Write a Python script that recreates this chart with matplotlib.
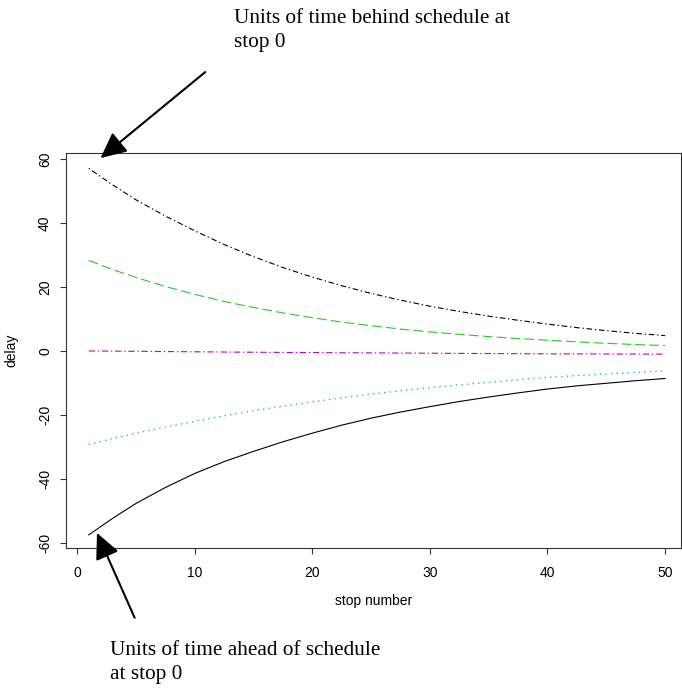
import matplotlib
matplotlib.use("Agg")
import matplotlib.pyplot as plt

stops = [1, 3, 5, 7.5, 10, 12.5, 15, 17.5, 20, 22.5, 25, 27.5, 30, 32.5, 35,
         37.5, 40, 42.5, 45, 47.5, 50]

# delay per stop, one list per starting delay
behind_big = [57.1, 52.0, 47.3, 42.2, 37.6, 33.3, 29.5, 26.1, 23.1, 20.4, 18.0,
              15.9, 14.0, 12.35, 10.9, 9.6, 8.4, 7.3, 6.35, 5.5, 4.8]
behind_small = [28.3, 25.5, 23.0, 20.2, 17.7, 15.5, 13.6, 11.9, 10.4, 9.05, 7.9,
                6.85, 5.97, 5.2, 4.5, 3.9, 3.35, 2.85, 2.4, 2.0, 1.7]
on_time = [0.0, -0.05, -0.1, -0.18, -0.25, -0.33, -0.4, -0.45, -0.5, -0.55, -0.6,
           -0.65, -0.7, -0.75, -0.8, -0.85, -0.9, -0.92, -0.95, -0.98, -1.0]
ahead_small = [-29.2, -27.4, -25.7, -23.8, -22.0, -20.3, -18.7, -17.25, -15.9, -14.65, -13.5,
               -12.45, -11.5, -10.6, -9.8, -9.0, -8.25, -7.7, -7.2, -6.7, -6.25]
ahead_big = [-57.5, -52.4, -47.7, -42.7, -38.3, -34.6, -31.4, -28.4, -25.7, -23.2, -21.0,
             -19.1, -17.4, -15.8, -14.4, -13.1, -11.9, -10.9, -10.1, -9.3, -8.6]

xticks = [0, 10, 20, 30, 40, 50]
yticks = [-60, -40, -20, 0, 20, 40, 60]

plt.rcParams['font.family'] = ['Liberation Sans', 'DejaVu Sans']
plt.rcParams['lines.scale_dashes'] = False
plt.rcParams['axes.unicode_minus'] = False

fig = plt.figure(figsize=(6.82, 6.93), dpi=100)
ax = fig.add_axes([66 / 682, 145 / 693, 615 / 682, 395 / 693])

ax.plot(stops, behind_big, color='black', lw=0.8, dashes=(1, 2, 4, 2))
ax.plot(stops, behind_small, color='#22cc22', lw=0.8, dashes=(7, 3))
ax.plot(stops, on_time, color='#c000c0', lw=0.8, dashes=(4.5, 2, 1, 2))
ax.plot(stops, ahead_small, color='#00bfbf', lw=0.9, dashes=(1, 3))
ax.plot(stops, ahead_big, color='black', lw=0.8)

ax.set_xlim(-0.935, 51.35)
ax.set_ylim(-61.6, 61.9)
ax.set_xticks(xticks)
ax.set_yticks(yticks)
ax.tick_params(labelsize=10, length=4, width=0.8, color='#333333')
ax.tick_params(axis='x', pad=9)
ax.tick_params(axis='y', pad=6)
for lab in ax.get_yticklabels():
    lab.set_rotation(90)
    lab.set_va('center')
for s in ax.spines.values():
    s.set_color('#333333')
    s.set_linewidth(0.8)

ax.set_xlabel("stop number", fontsize=10, labelpad=10)
ax.set_ylabel("delay", fontsize=10, labelpad=14)

arrow = dict(arrowstyle='-|>,head_length=1.05,head_width=0.5', color='black', lw=1.5,
             shrinkA=0, shrinkB=0, mutation_scale=15)
ax.annotate("", xy=(2.0, 60.3), xytext=(10.9, 87.2), arrowprops=arrow,
            annotation_clip=False)
ax.annotate("", xy=(1.7, -56.9), xytext=(4.9, -83.4), arrowprops=arrow,
            annotation_clip=False)

fig.text(234 / 682, 1 - 9 / 693, "Units of time behind schedule at\nstop 0",
         family='Liberation Serif', fontsize=15.3, va='top', ha='left', linespacing=1.38)
fig.text(110 / 682, 1 - 641 / 693, "Units of time ahead of schedule\nat stop 0",
         family='Liberation Serif', fontsize=15.3, va='top', ha='left', linespacing=1.38)

fig.savefig("out.png", dpi=100)
